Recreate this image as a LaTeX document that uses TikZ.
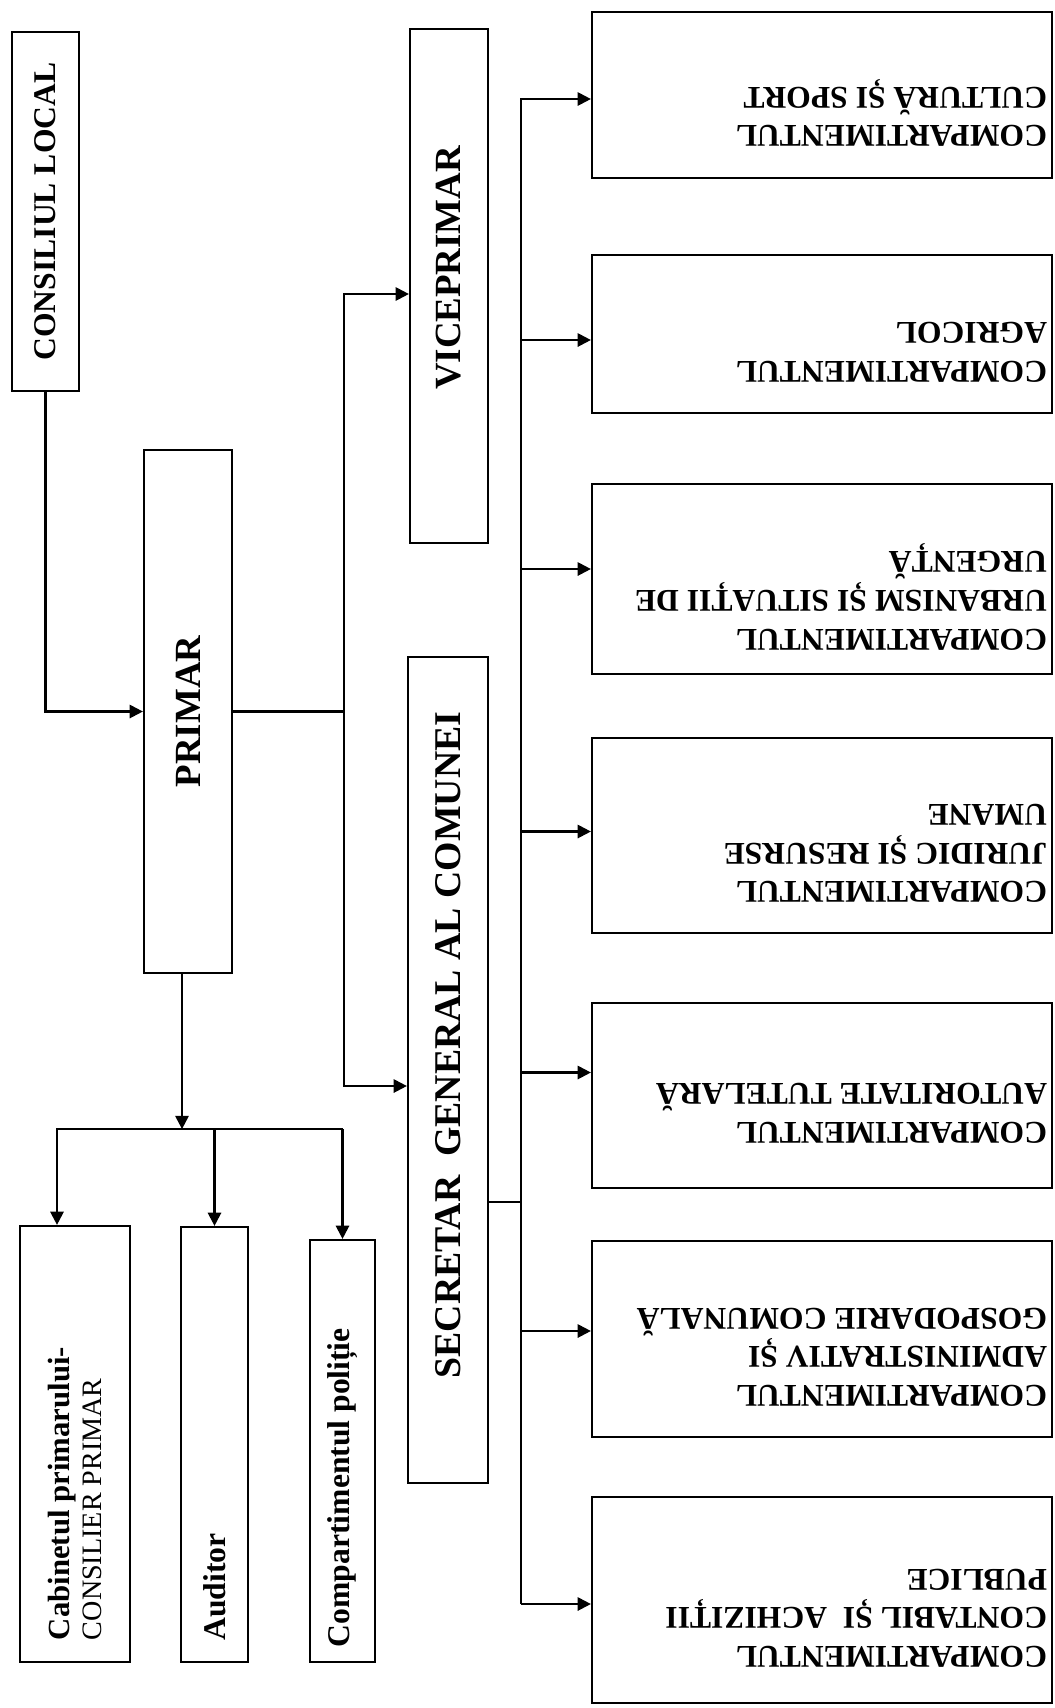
\documentclass[tikz,border=0pt]{standalone}
\usepackage{fontspec}
\setmainfont{Liberation Serif}
\usepackage{graphicx}
\usetikzlibrary{arrows.meta}
\newlength{\pxl}
\setlength{\pxl}{0.02cm}
\tikzstyle{unitbox} = [rectangle, draw=black, line width=1.25pt, inner sep=0pt]
\tikzstyle{compbox} = [unitbox, minimum width=460\pxl, font=\fontsize{18}{22}\selectfont\bfseries]
\tikzstyle{link} = [line width=1.25pt]
\tikzstyle{arrow} = [line width=1.25pt, -{Triangle[length=7.5pt, width=7.5pt]}]
\newcommand{\rottext}[1]{\rotatebox{90}{#1}}
\newcommand{\lefttext}[1]{\rotatebox{90}{\parbox{392\pxl}{\raggedright #1}}}
\newcommand{\fliptext}[1]{\rotatebox{180}{\parbox{450\pxl}{\raggedright #1\par\vspace{36\pxl}}}}

\begin{document}
\begin{tikzpicture}[x=\pxl, y=-\pxl]
\useasboundingbox (0,0) rectangle (1055,1708);

% conducere
\node (cl) [unitbox, minimum width=67\pxl, minimum height=359\pxl, font=\fontsize{18}{22}\selectfont\bfseries] at (45.5,211.5) {\rottext{CONSILIUL LOCAL}};
\node (primar) [unitbox, minimum width=88\pxl, minimum height=523\pxl, font=\fontsize{21}{25}\selectfont\bfseries] at (188,711.5) {\rottext{PRIMAR}};
\node (vice) [unitbox, minimum width=78\pxl, minimum height=514\pxl, font=\fontsize{21}{25}\selectfont\bfseries] at (449,286) {\rottext{\hspace*{36\pxl}VICEPRIMAR}};
\node (secr) [unitbox, minimum width=80\pxl, minimum height=826\pxl, font=\fontsize{21.5}{25}\selectfont\bfseries] at (448,1070) {\rottext{\hspace*{50\pxl}SECRETAR~ GENERAL AL COMUNEI}};

% aparatul primarului
\node (cab) [unitbox, minimum width=110\pxl, minimum height=436\pxl, font=\fontsize{17.5}{18}\selectfont] at (75,1444) {\lefttext{\textbf{Cabinetul primarului-}\\{\fontsize{16}{18}\selectfont CONSILIER PRIMAR}}};
\node (aud) [unitbox, minimum width=67\pxl, minimum height=435\pxl, font=\fontsize{18}{22}\selectfont\bfseries] at (214.5,1444.5) {\lefttext{Auditor}};
\node (pol) [unitbox, minimum width=65\pxl, minimum height=422\pxl, font=\fontsize{18}{22}\selectfont\bfseries] at (342.5,1451) {\lefttext{Compartimentul poliție}};

% compartimente
\node (c1) [compbox, minimum height=166\pxl] at (822,95) {\fliptext{COMPARTIMENTUL\\CULTURĂ ȘI SPORT}};
\node (c2) [compbox, minimum height=158\pxl] at (822,334) {\fliptext{COMPARTIMENTUL\\AGRICOL}};
\node (c3) [compbox, minimum height=190\pxl] at (822,579) {\fliptext{COMPARTIMENTUL\\URBANISM ȘI SITUAȚII DE\\URGENȚĂ}};
\node (c4) [compbox, minimum height=195\pxl] at (822,835.5) {\fliptext{COMPARTIMENTUL\\JURIDIC ȘI RESURSE\\UMANE}};
\node (c5) [compbox, minimum height=185\pxl] at (822,1095.5) {\fliptext{COMPARTIMENTUL\\AUTORITATE TUTELARĂ}};
\node (c6) [compbox, minimum height=196\pxl] at (822,1339) {\fliptext{COMPARTIMENTUL\\ADMINISTRATIV ȘI\\GOSPODARIE COMUNALĂ}};
\node (c7) [compbox, minimum height=206\pxl] at (822,1600) {\fliptext{COMPARTIMENTUL\\CONTABIL ȘI~ ACHIZIȚII\\PUBLICE}};

\draw [arrow] (cl.south) |- (primar.west);
\draw [link] (primar.east) -- ++(111,0) coordinate (split);
\draw [arrow] (split) |- ([yshift=-8\pxl]vice.west);
\draw [arrow] (split) |- ([yshift=-16\pxl]secr.west);

\draw [arrow] ([xshift=-6\pxl]primar.south) -- ++(0,155) coordinate (bus);
\coordinate (busL) at (57,1128);
\draw [arrow] (pol.north |- bus) -| (busL |- cab.north);
\draw [arrow] (aud.north |- bus) -- (aud.north);
\draw [arrow] (pol.north |- bus) -- (pol.north);

\draw [link] ([yshift=-132\pxl]secr.east) -- ++(32,0) coordinate (rbus);
\draw [arrow] ([yshift=-4\pxl]c7.west -| rbus) |- ([yshift=-4\pxl]c1.west);
\foreach \i/\dy in {2/-6, 3/10, 4/4, 5/23, 6/8, 7/-4}
  \draw [arrow] ([yshift=\dy\pxl]c\i.west -| rbus) -- ([yshift=\dy\pxl]c\i.west);

\end{tikzpicture}
\end{document}
